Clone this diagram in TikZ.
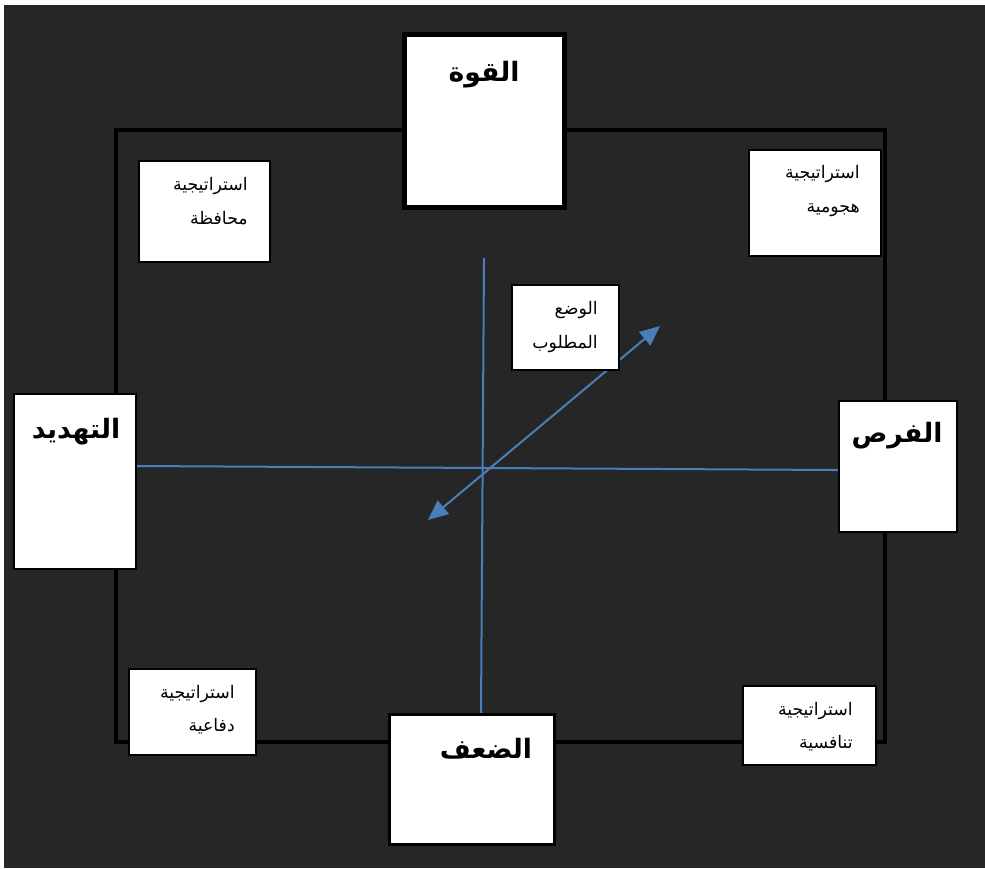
\documentclass[tikz,border=0pt]{standalone}
\usepackage{fontspec}
\usetikzlibrary{arrows.meta}
\TeXXeTstate=1
\newfontfamily\arfont[Script=Arabic]{DejaVu Sans}
\definecolor{bgdark}{HTML}{262626}
\definecolor{axisblue}{HTML}{4A7EBB}
\tikzset{
  box/.style={draw=black, fill=white, line width=1.5pt, inner sep=0pt},
  bigtext/.style={font=\arfont\bfseries\fontsize{20}{22}\selectfont, inner sep=0pt},
  smalltext/.style={font=\arfont\fontsize{13}{25}\selectfont, align=right, inner sep=0pt, anchor=east},
  axis/.style={draw=axisblue, line width=1.5pt},
  tip/.style={Triangle[length=15pt,width=13pt]},
}
\begin{document}
\begin{tikzpicture}[x=0.75pt,y=-0.75pt]
\useasboundingbox (0,0) rectangle (985,868);
\fill[white] (0,0) rectangle (985,868);
\fill[bgdark] (4,5) rectangle (985,868);
% main frame
\draw[line width=3pt] (116,130) rectangle (885,742);
% axes
\coordinate (h1) at (137,466);
\coordinate (h2) at (838,470);
\coordinate (v1) at (484,258);
\coordinate (v2) at (481,713);
\coordinate (a1) at (428,520);
\coordinate (a2) at (660,326);
\draw[axis] (h1) -- (h2);
\draw[axis] (v1) -- (v2);
\draw[axis, {Triangle[length=15pt,width=13pt]}-{Triangle[length=15pt,width=13pt]}] (a1) -- (a2);
% boxes
\node[box, line width=3.75pt, minimum width=120pt, minimum height=129.75pt] (Q) at (484.5,121) {};
\node[box, minimum width=91.5pt, minimum height=131.25pt] (T) at (75,481.5) {};
\node[box, minimum width=88.5pt, minimum height=98.25pt] (F) at (898,466.5) {};
\node[box, line width=2.25pt, minimum width=123.75pt, minimum height=97.5pt] (D) at (471.5,779) {};
\node[box, line width=2pt, minimum width=80.25pt, minimum height=63.75pt] (W) at (565.5,327.5) {};
\node[box, line width=2pt, minimum width=98.25pt, minimum height=75.75pt] (M) at (204.5,211.5) {};
\node[box, line width=2pt, minimum width=99pt, minimum height=79.5pt] (H) at (815,203) {};
\node[box, line width=2pt, minimum width=95.25pt, minimum height=64.5pt] (Df) at (192.5,712) {};
\node[box, line width=2pt, minimum width=99.75pt, minimum height=59.25pt] (Tn) at (809.5,725.5) {};
% titles
\node[bigtext] (tQ) at (484,75) {\beginR القوة\endR};
\node[bigtext] (tT) at (76,432) {\beginR التهديد\endR};
\node[bigtext] (tF) at (897,436) {\beginR الفرص\endR};
\node[bigtext] (tD) at (486,749) {\beginR الضعف\endR};
% small labels
\node[smalltext] (tW) at (598,327) {\beginR الوضع\endR\\\beginR المطلوب\endR};
\node[smalltext] (tM) at (248,201) {\beginR استراتيجية\endR\\\beginR محافظة\endR};
\node[smalltext] (tH) at (860,191) {\beginR استراتيجية\endR\\\beginR هجومية\endR};
\node[smalltext] (tDf) at (235,710) {\beginR استراتيجية\endR\\\beginR دفاعية\endR};
\node[smalltext] (tTn) at (853,727) {\beginR استراتيجية\endR\\\beginR تنافسية\endR};
\end{tikzpicture}
\end{document}
